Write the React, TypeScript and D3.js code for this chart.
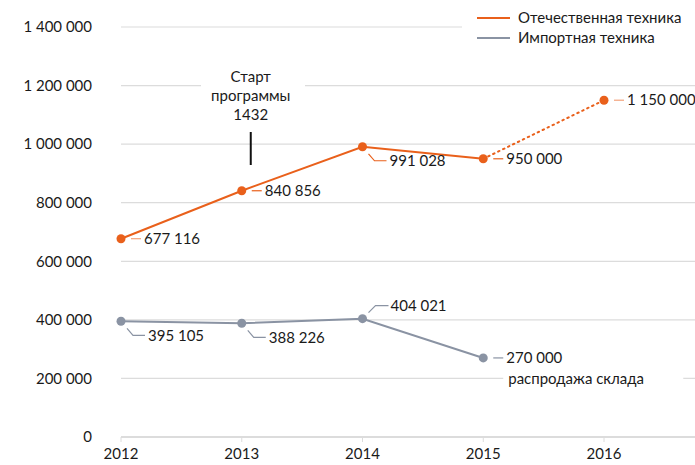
import React from 'react'
import * as d3 from 'd3'

const years = [2012, 2013, 2014, 2015, 2016]
const domestic = [677116, 840856, 991028, 950000, 1150000]
const imported = [395105, 388226, 404021, 270000]
const yTicks = [0, 200000, 400000, 600000, 800000, 1000000, 1200000, 1400000]
const seriesNames = ['Отечественная техника', 'Импортная техника']
const annotationLines = ['Старт', 'программы', '1432']
const saleNote = 'распродажа склада'

const W = 695
const H = 465
const ORANGE = '#e9601b'
const ORANGE_LIGHT = '#f3a27a'
const GRAY = '#8a93a3'
const GRID = '#dcdcdc'
const TEXT = '#1a1a1a'
const FONT = 'Lato, "Open Sans", sans-serif'

const fmt = d3.formatLocale({ decimal: ',', thousands: ' ', grouping: [3], currency: ['', ''] }).format(',d')

// label placement: leader style per point
const domesticLeader = ['flat', 'flat', 'down', 'flat', 'flat']
const importedLeader = ['down', 'down', 'up', 'flat']

function Label({ x, y, kind, color, text }: { x: number; y: number; kind: string; color: string; text: string }) {
  let path = ''
  let tx = 0
  let ty = y
  if (kind === 'flat') {
    path = `M${x + 10},${y}H${x + 20}`
    tx = x + 23
  } else if (kind === 'down') {
    path = `M${x + 6},${y + 7}L${x + 12},${y + 14}H${x + 24}`
    tx = x + 27
    ty = y + 14
  } else {
    path = `M${x + 6},${y - 6}L${x + 13},${y - 13}H${x + 26}`
    tx = x + 28
    ty = y - 13
  }
  return (
    <g>
      <path d={path} stroke={color} strokeWidth={1.2} fill="none" />
      <text x={tx} y={ty} dy="0.35em" fontSize={15} fill={TEXT}>
        {text}
      </text>
    </g>
  )
}

export default function App() {
  const x = d3.scaleLinear().domain([2012, 2016]).range([121, 604])
  const y = d3.scaleLinear().domain([0, 1400000]).range([437, 27])
  const line = d3
    .line<number>()
    .x((_, i) => x(years[i]))
    .y((d) => y(d))

  const solidDomestic = domestic.slice(0, 4)
  const dotted = [3, 4]

  return (
    <svg width={W} height={H} style={{ position: 'absolute', left: 0, top: 0, fontFamily: FONT }}>
      <rect width={W} height={H} fill="#fff" />
      {yTicks.map((t) => (
        <g key={t}>
          <line x1={x(2012)} x2={W} y1={y(t)} y2={y(t)} stroke={GRID} strokeWidth={t === 0 ? 2 : 1.2} />
          <text x={92} y={y(t)} dy="0.35em" textAnchor="end" fontSize={15} fill={TEXT}>
            {fmt(t)}
          </text>
        </g>
      ))}
      {years.map((yr) => (
        <g key={yr}>
          <line x1={x(yr)} x2={x(yr)} y1={y(0)} y2={y(0) + 5} stroke={GRID} strokeWidth={1} />
          <text x={x(yr)} y={459} textAnchor="middle" fontSize={15} fill={TEXT}>
            {yr}
          </text>
        </g>
      ))}

      {/* legend */}
      <rect x={462} y={4} width={233} height={46} fill="#fff" />
      <line x1={477} x2={510} y1={18} y2={18} stroke={ORANGE} strokeWidth={2} />
      <text x={518} y={18} dy="0.35em" fontSize={15} fill={TEXT}>{seriesNames[0]}</text>
      <line x1={477} x2={510} y1={38} y2={38} stroke={GRAY} strokeWidth={2} />
      <text x={518} y={38} dy="0.35em" fontSize={15} fill={TEXT}>{seriesNames[1]}</text>

      {/* annotation */}
      <rect x={201} y={64} width={104} height={60} fill="#fff" />
      {annotationLines.map((s, i) => (
        <text key={s} x={x(2013) + 9} y={77 + i * 19} dy="0.35em" textAnchor="middle" fontSize={15} fill={TEXT}>
          {s}
        </text>
      ))}
      <line x1={x(2013) + 9} x2={x(2013) + 9} y1={132} y2={165} stroke="#111" strokeWidth={2} />

      {/* imported */}
      <path d={line(imported) || ''} fill="none" stroke={GRAY} strokeWidth={2} />
      {imported.map((v, i) => (
        <circle key={i} cx={x(years[i])} cy={y(v)} r={4.5} fill={GRAY} />
      ))}

      {/* domestic */}
      <path d={line(solidDomestic) || ''} fill="none" stroke={ORANGE} strokeWidth={2} />
      <path
        d={`M${x(years[dotted[0]])},${y(domestic[dotted[0]])}L${x(years[dotted[1]])},${y(domestic[dotted[1]])}`}
        fill="none"
        stroke={ORANGE}
        strokeWidth={2}
        strokeDasharray="1.5 4"
        strokeLinecap="round"
      />
      {domestic.map((v, i) => (
        <circle key={i} cx={x(years[i])} cy={y(v)} r={4.5} fill={ORANGE} />
      ))}

      {domestic.map((v, i) => (
        <Label key={i} x={x(years[i])} y={y(v)} kind={domesticLeader[i]} color={i === 0 || i === 4 ? ORANGE_LIGHT : ORANGE} text={fmt(v)} />
      ))}
      {imported.map((v, i) => (
        <Label key={i} x={x(years[i])} y={y(v)} kind={importedLeader[i]} color={GRAY} text={fmt(v)} />
      ))}

      {/* sale note */}
      <rect x={x(2015) + 20} y={y(200000) - 10} width={180} height={20} fill="#fff" />
      <text x={x(2015) + 25} y={y(imported[3]) + 21} dy="0.35em" fontSize={15} fill={TEXT}>
        {saleNote}
      </text>
    </svg>
  )
}
